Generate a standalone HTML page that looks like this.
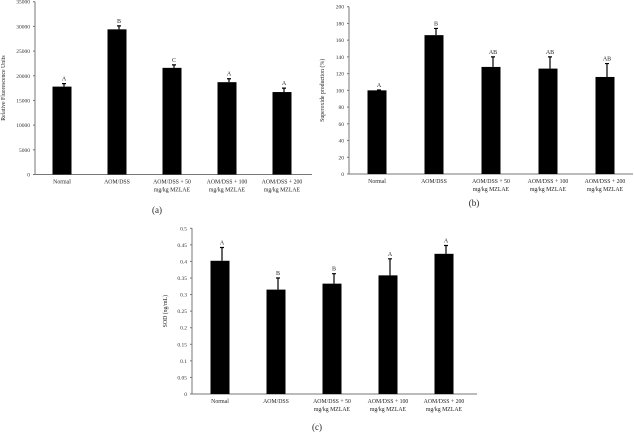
<!DOCTYPE html>
<html><head><meta charset="utf-8"><style>
html,body{margin:0;padding:0;background:#fff;}
svg{display:block;font-family:"Liberation Serif",serif;}
</style></head><body>
<svg id="s" width="634" height="435" viewBox="0 0 634 435" xmlns="http://www.w3.org/2000/svg"></svg>
<script>
const categories = [["Normal"],["AOM/DSS"],["AOM/DSS + 50","mg/kg MZLAE"],["AOM/DSS + 100","mg/kg MZLAE"],["AOM/DSS + 200","mg/kg MZLAE"]];
const valuesA = [17800, 29400, 21600, 18700, 16700];
const errorsA = [600, 700, 600, 700, 800];
const lettersA = ["A","B","C","A","A"];
const ticksA = [0,5000,10000,15000,20000,25000,30000,35000];
const valuesB = [100, 166, 128, 126, 116];
const errorsB = [0.5, 8, 12, 14, 16];
const lettersB = ["A","B","AB","AB","AB"];
const ticksB = [0,20,40,60,80,100,120,140,160,180,200];
const valuesC = [0.402, 0.315, 0.333, 0.358, 0.423];
const errorsC = [0.04, 0.035, 0.03, 0.05, 0.025];
const lettersC = ["A","B","B","A","A"];
const ticksC = [0,0.05,0.1,0.15,0.2,0.25,0.3,0.35,0.4,0.45,0.5];
const tickLabelsC = ["0","0.05","0.1","0.15","0.2","0.25","0.3","0.35","0.4","0.45","0.5"];

const svg = document.getElementById('s');
const NS = "http://www.w3.org/2000/svg";
function mk(tag, attrs, parent){
  const e = document.createElementNS(NS, tag);
  for (const k in attrs) e.setAttribute(k, attrs[k]);
  (parent||svg).appendChild(e);
  return e;
}
function chart(cfg){
  const g = mk('g', {});
  
  
  const ymax = cfg.ticks[cfg.ticks.length-1];
  const y = v => cfg.y0 - (v/ymax)*(cfg.y0 - cfg.yTop);
  const x = i => cfg.c0 + i*cfg.step;
  const ya = mk('line', {x1:cfg.xa, x2:cfg.xa, y1:cfg.yTop, y2:cfg.y0, stroke:'#777', 'stroke-width':1}, g);
  
  
  const xa = mk('line', {x1:cfg.xa, x2:cfg.xEnd, y1:cfg.y0, y2:cfg.y0, stroke:'#777', 'stroke-width':1}, g);
  
  
  cfg.ticks.forEach((t, i) => {
    mk('line', {x1:cfg.xa-2, x2:cfg.xa, y1:y(t), y2:y(t), stroke:'#777'}, g);
    const tl = mk('text', {x:cfg.xa-5, y:y(t)+2, 'font-size':5.5, 'text-anchor':'end', fill:'#333'}, g);
    tl.textContent = cfg.tickLabels ? cfg.tickLabels[i] : String(t);
    
    
  });
  cfg.values.forEach((v, i) => {
    const cx = x(i);
    const b = mk('rect', {x:cx-cfg.bw/2, y:y(v), width:cfg.bw, height:cfg.y0-y(v), fill:'#000'}, g);
    
    
    const top = y(v + cfg.errors[i]);
    const eb = mk('path', {d:`M${cx+2} ${y(v)} V${top} M${cx} ${top} H${cx+4}`, stroke:'#000', 'stroke-width':1.2, fill:'none'}, g);
    
    
    const lt = mk('text', {x:cx+2, y:top-3, 'font-size':6, 'text-anchor':'middle', fill:'#222'}, g);
    lt.textContent = cfg.letters[i];
    
    
    categories[i].forEach((ln, k) => {
      const c = mk('text', {x:cx, y:cfg.y0+9+k*8, 'font-size':5.8, 'text-anchor':'middle', fill:'#222'}, g);
      c.textContent = ln;
      
      
    });
  });
  const at = mk('text', {x:0, y:0, 'font-size':5.8, 'text-anchor':'middle', fill:'#222', transform:`translate(${cfg.titleX},${(cfg.y0+cfg.yTop)/2}) rotate(-90)`}, g);
  at.textContent = cfg.title;
  
  
  const pl = mk('text', {x:cfg.panelX, y:cfg.panelY, 'font-size':9, 'text-anchor':'middle', fill:'#222'}, g);
  pl.textContent = cfg.panel;
  
  
}
chart({name:'chart-a', values:valuesA, errors:errorsA, letters:lettersA, ticks:ticksA,
  xa:35, xEnd:312, y0:174.5, yTop:1.7, c0:62, step:55, bw:19,
  title:'Relative Fluorescence Units', titleX:5, panel:'(a)', panelX:157, panelY:213});
chart({name:'chart-b', values:valuesB, errors:errorsB, letters:lettersB, ticks:ticksB,
  xa:349, xEnd:633, y0:174, yTop:6.7, c0:377, step:57, bw:19,
  title:'Superoxide production (%)', titleX:324, panel:'(b)', panelX:474, panelY:206});
chart({name:'chart-c', values:valuesC, errors:errorsC, letters:lettersC, ticks:ticksC, tickLabels:tickLabelsC,
  xa:192, xEnd:477, y0:394, yTop:228.3, c0:220, step:56, bw:19,
  title:'SOD (ng/mL)', titleX:167, panel:'(c)', panelX:317, panelY:430});
</script>
</body></html>
